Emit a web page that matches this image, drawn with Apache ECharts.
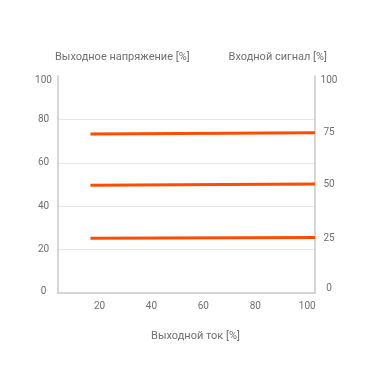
<!DOCTYPE html>
<html><head><meta charset="utf-8">
<script src="https://cdn.jsdelivr.net/npm/echarts@6/dist/echarts.min.js"></script>
<style>html,body{margin:0;padding:0;background:#fff}#c{width:370px;height:370px}</style>
</head><body><div id="c"></div>
<script>
const xLabels = [20, 40, 60, 80, 100];
const lineX = [16.5, 103];
const line75 = [73.3, 73.9];
const line50 = [49.7, 50.2];
const line25 = [25.2, 25.6];
const leftName = 'Выходное напряжение [%]';
const rightName = 'Входной сигнал [%]';
const xName = 'Выходной ток [%]';

const FONT = 'Roboto', GRAY = '#6e6e6e';
const nameTxt = {color:GRAY, fontFamily:FONT, fontSize:11};
const tickTxt = {color:GRAY, fontFamily:FONT, fontSize:10};
const r = p => Object.assign({padding:p}, tickTxt);
const mk = d => ({type:'line', yAxisIndex:1, symbol:'none', silent:true,
  lineStyle:{color:'#fc4c02', width:3}, data: lineX.map((x,i)=>[x,d[i]])});

const chart = echarts.init(document.getElementById('c'), null, {renderer:'canvas'});
chart.setOption({
  animation:false,
  grid:{left:58, right:55, top:76, bottom:77},
  xAxis:{type:'value', min:4, max:103,
    name:xName, nameLocation:'middle', nameGap:38, nameTextStyle:Object.assign({padding:[0,0,0,18]},nameTxt),
    axisLine:{lineStyle:{color:'#c8c8c8', width:1.5}}, axisTick:{show:false}, splitLine:{show:false},
    axisLabel:Object.assign({customValues:xLabels, margin:8}, tickTxt)},
  yAxis:[
    {type:'value', min:0, max:100, interval:20, position:'left',
     name:leftName, nameLocation:'end', nameGap:13,
     nameTextStyle:Object.assign({align:'left', padding:[0,0,0,-3]},nameTxt),
     axisLine:{show:true, lineStyle:{color:'#c8c8c8', width:1.5}}, axisTick:{show:false},
     splitLine:{show:true, showMaxLine:false, showMinLine:false, lineStyle:{color:'#e6e6e6', width:1}},
     axisLabel:Object.assign({margin:14.5, align:'center',
       formatter:v => v===100 ? '{t|'+v+'}' : v===0 ? '{b|'+v+'}' : '{n|'+v+'}',
       rich:{t:r([8,0,0,0]), b:r([0,0,4,0]), n:r([0,0,0,0])}}, tickTxt)},
    {type:'value', min:0, max:100, interval:25, position:'right',
     name:rightName, nameLocation:'end', nameGap:13,
     nameTextStyle:Object.assign({align:'right', padding:[0,-12,0,0]},nameTxt),
     axisLine:{show:true, lineStyle:{color:'#c8c8c8', width:1.5}}, axisTick:{show:false},
     splitLine:{show:false},
     axisLabel:Object.assign({margin:14, align:'center',
       formatter:v => v===100 ? '{t|'+v+'}' : v===0 ? '{b|'+v+'}' : v===75 ? '{d|'+v+'}' : '{n|'+v+'}',
       rich:{t:r([8,0,0,0]), b:r([0,0,10,0]), d:r([5,0,0,0]), n:r([0,0,0,0])}}, tickTxt)}
  ],
  series:[mk(line75), mk(line50), mk(line25)]
});
</script></body></html>
